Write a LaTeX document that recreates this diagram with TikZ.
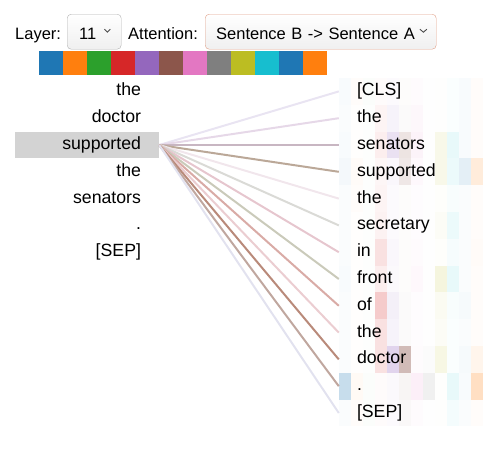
\documentclass[tikz,border=0pt]{standalone}
\usepackage{fontspec}
\setmainfont{Liberation Sans}
\usepackage{xcolor}
\usepackage{tikz}
\usetikzlibrary{positioning}
% head colours (tab10, cycling)
\definecolor{head1}{HTML}{1F77B4}
\definecolor{head2}{HTML}{FF7F0E}
\definecolor{head3}{HTML}{2CA02C}
\definecolor{head4}{HTML}{D62728}
\definecolor{head5}{HTML}{9467BD}
\definecolor{head6}{HTML}{8C564B}
\definecolor{head7}{HTML}{E377C2}
\definecolor{head8}{HTML}{7F7F7F}
\definecolor{head9}{HTML}{BCBD22}
\definecolor{head10}{HTML}{17BECF}
\definecolor{head11}{HTML}{1F77B4}
\definecolor{head12}{HTML}{FF7F0E}
\definecolor{hlgray}{HTML}{D3D3D3}
\definecolor{selorange}{HTML}{E0A088}

\begin{document}
\begin{tikzpicture}[x=1pt, y=-1pt,
  every node/.style={font=\fontsize{17.7pt}{21pt}\selectfont, inner sep=0pt},
  tok/.style={minimum width=144pt, minimum height=26.8pt, text height=13pt,
              text depth=4pt, inner xsep=18pt, text width=108pt},
  ltok/.style={tok, align=right},
  rtok/.style={tok, align=left},
  attn/.style={line width=2pt},
  hdr/.style={font=\fontsize{16.5pt}{20pt}\selectfont},
  sel/.style={hdr, draw=gray!60, rounded corners=4pt, top color=white,
              bottom color=gray!12, minimum height=35pt, text height=14.6pt,
              text depth=0pt, align=left},
  chev/.style={draw=black!70, line width=0.9pt},
]
  \useasboundingbox (0,0) rectangle (500,450);

  % Header: layer and attention selectors
  \node[hdr, anchor=base west] (layerlbl) at (15,39) {Layer:};
  \node[sel, inner xsep=12pt, text width=30pt, anchor=north west] (layersel) at (67,14) {11};
  \draw[chev] ([xshift=-17pt,yshift=2.5pt]layersel.east) -- ++(3,3) -- ++(3,-3);
  \node[hdr, anchor=base west] (attnlbl) at (128,39) {Attention:};
  \node[sel, draw=selorange, inner xsep=11pt, text width=209pt, anchor=north west]
    (attnsel) at (205,14) {Sentence B -> Sentence A};
  \draw[chev] ([xshift=-16.5pt,yshift=2.5pt]attnsel.east) -- ++(3.5,3) -- ++(3.5,-3);

  % Head colour swatches
  \foreach \c in {1,...,12}
    \fill[head\c] (15+24*\c,51) rectangle ++(24,24);

  % Per-head attention cells behind sentence A
  \foreach \r/\vals in {
      0/{3,2,2,2,3,2,3,1,1,2,3,2},
      1/{2,1,1,5,8,3,6,1,1,2,3,2},
      2/{3,1,1,8,20,16,9,1,10,10,3,2},
      3/{5,3,1,4,5,14,5,1,10,8,12,15},
      4/{2,2,1,5,3,2,2,1,2,3,2,2},
      5/{2,1,1,6,3,2,2,1,4,8,2,2},
      6/{2,1,1,14,5,2,3,1,2,4,2,3},
      7/{3,1,1,8,4,2,5,1,15,10,2,2},
      8/{2,1,1,24,10,3,2,1,6,3,4,2},
      9/{2,1,1,14,8,3,2,1,4,2,2,2},
      10/{2,1,1,14,28,40,3,3,12,2,4,8},
      11/{25,4,2,2,4,6,12,12,1,10,3,25},
      12/{2,2,2,2,3,4,3,1,1,5,2,2}}
    \foreach \v [count=\c] in \vals
      \fill[head\c!\v] (327+12*\c,78+26.8*\r) rectangle ++(12,26.8);

  % Sentence B (left)
  \node[ltok] (l0) at (87,91.4) {the};
  \node[ltok] (l1) at (87,118.2) {doctor};
  \node[ltok, fill=hlgray] (l2) at (87,145) {supported};
  \node[ltok] (l3) at (87,171.8) {the};
  \node[ltok] (l4) at (87,198.6) {senators};
  \node[ltok] (l5) at (87,225.4) {.};
  \node[ltok] (l6) at (87,252.2) {[SEP]};

  % Sentence A (right)
  \foreach \w [count=\i from 0] in {{[CLS]},the,senators,supported,the,secretary,in,front,of,the,doctor,.,{[SEP]}}
    \node[rtok] (r\i) at (411,91.4+26.8*\i) {\w};

  % Attention lines from the selected token
  \foreach \i/\col in {0/E9E4F2, 1/E6D8E8, 2/C8B6C2, 3/BBA898, 4/F1E6EC, 5/DADAD6,
                       6/E6C6CE, 7/CACABA, 8/D9ABA6, 9/EBCDD1, 10/B98A7A, 11/C0A79F, 12/E2E2EF} {
    \definecolor{lnc}{HTML}{\col}
    \draw[attn, lnc] (l2.east) -- (r\i.west);
  }
\end{tikzpicture}
\end{document}
